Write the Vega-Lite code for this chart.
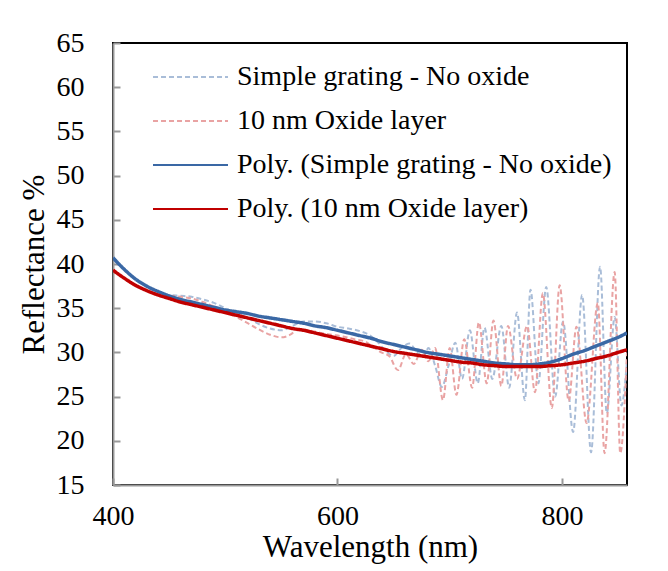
{
  "$schema": "https://vega.github.io/schema/vega-lite/v6.json",
  "autosize": "none",
  "width": 514,
  "height": 442,
  "padding": {"left": 113, "top": 43, "right": 41, "bottom": 86},
  "background": "white",
  "config": {
    "view": {"stroke": "black", "strokeWidth": 2},
    "font": "Liberation Serif, Times New Roman, serif"
  },
  "datasets": {
    "raw": [
      {"wl": 400, "R": 40.7, "series": "Simple grating - No oxide"},
      {"wl": 410, "R": 39.4, "series": "Simple grating - No oxide"},
      {"wl": 420, "R": 38.3, "series": "Simple grating - No oxide"},
      {"wl": 430, "R": 37.4, "series": "Simple grating - No oxide"},
      {"wl": 440, "R": 36.8, "series": "Simple grating - No oxide"},
      {"wl": 450, "R": 36.5, "series": "Simple grating - No oxide"},
      {"wl": 460, "R": 36.4, "series": "Simple grating - No oxide"},
      {"wl": 470, "R": 36.3, "series": "Simple grating - No oxide"},
      {"wl": 480, "R": 36.0, "series": "Simple grating - No oxide"},
      {"wl": 490, "R": 35.6, "series": "Simple grating - No oxide"},
      {"wl": 500, "R": 35.0, "series": "Simple grating - No oxide"},
      {"wl": 510, "R": 34.4, "series": "Simple grating - No oxide"},
      {"wl": 520, "R": 33.9, "series": "Simple grating - No oxide"},
      {"wl": 530, "R": 33.2, "series": "Simple grating - No oxide"},
      {"wl": 540, "R": 32.7, "series": "Simple grating - No oxide"},
      {"wl": 550, "R": 32.5, "series": "Simple grating - No oxide"},
      {"wl": 560, "R": 33.0, "series": "Simple grating - No oxide"},
      {"wl": 570, "R": 33.5, "series": "Simple grating - No oxide"},
      {"wl": 580, "R": 33.5, "series": "Simple grating - No oxide"},
      {"wl": 590, "R": 33.3, "series": "Simple grating - No oxide"},
      {"wl": 600, "R": 32.9, "series": "Simple grating - No oxide"},
      {"wl": 610, "R": 32.7, "series": "Simple grating - No oxide"},
      {"wl": 620, "R": 32.4, "series": "Simple grating - No oxide"},
      {"wl": 628, "R": 32.0, "series": "Simple grating - No oxide"},
      {"wl": 635, "R": 31.3, "series": "Simple grating - No oxide"},
      {"wl": 642, "R": 30.3, "series": "Simple grating - No oxide"},
      {"wl": 650, "R": 29.6, "series": "Simple grating - No oxide"},
      {"wl": 657, "R": 30.5, "series": "Simple grating - No oxide"},
      {"wl": 664, "R": 31.0, "series": "Simple grating - No oxide"},
      {"wl": 671, "R": 30.0, "series": "Simple grating - No oxide"},
      {"wl": 677, "R": 29.5, "series": "Simple grating - No oxide"},
      {"wl": 681, "R": 30.5, "series": "Simple grating - No oxide"},
      {"wl": 687, "R": 28.5, "series": "Simple grating - No oxide"},
      {"wl": 693, "R": 26.1, "series": "Simple grating - No oxide"},
      {"wl": 699, "R": 28.5, "series": "Simple grating - No oxide"},
      {"wl": 705, "R": 31.1, "series": "Simple grating - No oxide"},
      {"wl": 711, "R": 27.0, "series": "Simple grating - No oxide"},
      {"wl": 718, "R": 32.5, "series": "Simple grating - No oxide"},
      {"wl": 725, "R": 26.5, "series": "Simple grating - No oxide"},
      {"wl": 731, "R": 32.8, "series": "Simple grating - No oxide"},
      {"wl": 738, "R": 27.0, "series": "Simple grating - No oxide"},
      {"wl": 746, "R": 33.0, "series": "Simple grating - No oxide"},
      {"wl": 753, "R": 26.0, "series": "Simple grating - No oxide"},
      {"wl": 760, "R": 34.5, "series": "Simple grating - No oxide"},
      {"wl": 767, "R": 24.6, "series": "Simple grating - No oxide"},
      {"wl": 772, "R": 37.1, "series": "Simple grating - No oxide"},
      {"wl": 779, "R": 26.5, "series": "Simple grating - No oxide"},
      {"wl": 786, "R": 37.4, "series": "Simple grating - No oxide"},
      {"wl": 794, "R": 25.0, "series": "Simple grating - No oxide"},
      {"wl": 801, "R": 33.5, "series": "Simple grating - No oxide"},
      {"wl": 810, "R": 21.0, "series": "Simple grating - No oxide"},
      {"wl": 818, "R": 36.5, "series": "Simple grating - No oxide"},
      {"wl": 826, "R": 18.7, "series": "Simple grating - No oxide"},
      {"wl": 834, "R": 39.7, "series": "Simple grating - No oxide"},
      {"wl": 840, "R": 23.1, "series": "Simple grating - No oxide"},
      {"wl": 847, "R": 34.0, "series": "Simple grating - No oxide"},
      {"wl": 853, "R": 24.0, "series": "Simple grating - No oxide"},
      {"wl": 858, "R": 29.0, "series": "Simple grating - No oxide"},
      {"wl": 400, "R": 39.3, "series": "10 nm Oxide layer"},
      {"wl": 410, "R": 38.3, "series": "10 nm Oxide layer"},
      {"wl": 420, "R": 37.5, "series": "10 nm Oxide layer"},
      {"wl": 430, "R": 36.9, "series": "10 nm Oxide layer"},
      {"wl": 440, "R": 36.5, "series": "10 nm Oxide layer"},
      {"wl": 450, "R": 36.4, "series": "10 nm Oxide layer"},
      {"wl": 460, "R": 36.3, "series": "10 nm Oxide layer"},
      {"wl": 470, "R": 36.1, "series": "10 nm Oxide layer"},
      {"wl": 480, "R": 35.7, "series": "10 nm Oxide layer"},
      {"wl": 490, "R": 35.2, "series": "10 nm Oxide layer"},
      {"wl": 500, "R": 34.6, "series": "10 nm Oxide layer"},
      {"wl": 510, "R": 34.0, "series": "10 nm Oxide layer"},
      {"wl": 520, "R": 33.3, "series": "10 nm Oxide layer"},
      {"wl": 530, "R": 32.6, "series": "10 nm Oxide layer"},
      {"wl": 540, "R": 32.0, "series": "10 nm Oxide layer"},
      {"wl": 550, "R": 31.7, "series": "10 nm Oxide layer"},
      {"wl": 558, "R": 32.0, "series": "10 nm Oxide layer"},
      {"wl": 565, "R": 32.6, "series": "10 nm Oxide layer"},
      {"wl": 575, "R": 32.5, "series": "10 nm Oxide layer"},
      {"wl": 585, "R": 32.2, "series": "10 nm Oxide layer"},
      {"wl": 595, "R": 32.0, "series": "10 nm Oxide layer"},
      {"wl": 605, "R": 31.8, "series": "10 nm Oxide layer"},
      {"wl": 615, "R": 31.5, "series": "10 nm Oxide layer"},
      {"wl": 625, "R": 31.2, "series": "10 nm Oxide layer"},
      {"wl": 632, "R": 30.6, "series": "10 nm Oxide layer"},
      {"wl": 639, "R": 30.0, "series": "10 nm Oxide layer"},
      {"wl": 646, "R": 29.6, "series": "10 nm Oxide layer"},
      {"wl": 654, "R": 28.0, "series": "10 nm Oxide layer"},
      {"wl": 661, "R": 29.8, "series": "10 nm Oxide layer"},
      {"wl": 668, "R": 28.7, "series": "10 nm Oxide layer"},
      {"wl": 675, "R": 30.3, "series": "10 nm Oxide layer"},
      {"wl": 681, "R": 29.0, "series": "10 nm Oxide layer"},
      {"wl": 687, "R": 30.5, "series": "10 nm Oxide layer"},
      {"wl": 694, "R": 24.6, "series": "10 nm Oxide layer"},
      {"wl": 700, "R": 30.5, "series": "10 nm Oxide layer"},
      {"wl": 706, "R": 25.2, "series": "10 nm Oxide layer"},
      {"wl": 713, "R": 31.5, "series": "10 nm Oxide layer"},
      {"wl": 720, "R": 26.0, "series": "10 nm Oxide layer"},
      {"wl": 726, "R": 33.4, "series": "10 nm Oxide layer"},
      {"wl": 733, "R": 26.5, "series": "10 nm Oxide layer"},
      {"wl": 739, "R": 33.6, "series": "10 nm Oxide layer"},
      {"wl": 746, "R": 26.2, "series": "10 nm Oxide layer"},
      {"wl": 752, "R": 33.0, "series": "10 nm Oxide layer"},
      {"wl": 760, "R": 27.0, "series": "10 nm Oxide layer"},
      {"wl": 769, "R": 33.0, "series": "10 nm Oxide layer"},
      {"wl": 776, "R": 25.5, "series": "10 nm Oxide layer"},
      {"wl": 783, "R": 36.7, "series": "10 nm Oxide layer"},
      {"wl": 791, "R": 23.7, "series": "10 nm Oxide layer"},
      {"wl": 798, "R": 37.6, "series": "10 nm Oxide layer"},
      {"wl": 806, "R": 24.5, "series": "10 nm Oxide layer"},
      {"wl": 813, "R": 32.9, "series": "10 nm Oxide layer"},
      {"wl": 822, "R": 22.0, "series": "10 nm Oxide layer"},
      {"wl": 832, "R": 35.6, "series": "10 nm Oxide layer"},
      {"wl": 838, "R": 18.6, "series": "10 nm Oxide layer"},
      {"wl": 847, "R": 39.1, "series": "10 nm Oxide layer"},
      {"wl": 852, "R": 18.6, "series": "10 nm Oxide layer"},
      {"wl": 858, "R": 30.0, "series": "10 nm Oxide layer"}
    ],
    "poly": [
      {"wl": 400, "R": 40.7, "series": "Poly. (Simple grating - No oxide)"},
      {"wl": 410, "R": 39.4, "series": "Poly. (Simple grating - No oxide)"},
      {"wl": 420, "R": 38.3, "series": "Poly. (Simple grating - No oxide)"},
      {"wl": 430, "R": 37.5, "series": "Poly. (Simple grating - No oxide)"},
      {"wl": 440, "R": 36.9, "series": "Poly. (Simple grating - No oxide)"},
      {"wl": 450, "R": 36.4, "series": "Poly. (Simple grating - No oxide)"},
      {"wl": 460, "R": 36.0, "series": "Poly. (Simple grating - No oxide)"},
      {"wl": 470, "R": 35.7, "series": "Poly. (Simple grating - No oxide)"},
      {"wl": 480, "R": 35.4, "series": "Poly. (Simple grating - No oxide)"},
      {"wl": 490, "R": 35.1, "series": "Poly. (Simple grating - No oxide)"},
      {"wl": 500, "R": 34.8, "series": "Poly. (Simple grating - No oxide)"},
      {"wl": 510, "R": 34.6, "series": "Poly. (Simple grating - No oxide)"},
      {"wl": 520, "R": 34.4, "series": "Poly. (Simple grating - No oxide)"},
      {"wl": 530, "R": 34.1, "series": "Poly. (Simple grating - No oxide)"},
      {"wl": 540, "R": 33.9, "series": "Poly. (Simple grating - No oxide)"},
      {"wl": 550, "R": 33.7, "series": "Poly. (Simple grating - No oxide)"},
      {"wl": 560, "R": 33.5, "series": "Poly. (Simple grating - No oxide)"},
      {"wl": 570, "R": 33.3, "series": "Poly. (Simple grating - No oxide)"},
      {"wl": 580, "R": 33.0, "series": "Poly. (Simple grating - No oxide)"},
      {"wl": 590, "R": 32.8, "series": "Poly. (Simple grating - No oxide)"},
      {"wl": 600, "R": 32.5, "series": "Poly. (Simple grating - No oxide)"},
      {"wl": 610, "R": 32.2, "series": "Poly. (Simple grating - No oxide)"},
      {"wl": 620, "R": 31.9, "series": "Poly. (Simple grating - No oxide)"},
      {"wl": 630, "R": 31.6, "series": "Poly. (Simple grating - No oxide)"},
      {"wl": 640, "R": 31.2, "series": "Poly. (Simple grating - No oxide)"},
      {"wl": 650, "R": 30.9, "series": "Poly. (Simple grating - No oxide)"},
      {"wl": 660, "R": 30.6, "series": "Poly. (Simple grating - No oxide)"},
      {"wl": 670, "R": 30.3, "series": "Poly. (Simple grating - No oxide)"},
      {"wl": 680, "R": 30.0, "series": "Poly. (Simple grating - No oxide)"},
      {"wl": 690, "R": 29.8, "series": "Poly. (Simple grating - No oxide)"},
      {"wl": 700, "R": 29.6, "series": "Poly. (Simple grating - No oxide)"},
      {"wl": 710, "R": 29.4, "series": "Poly. (Simple grating - No oxide)"},
      {"wl": 720, "R": 29.2, "series": "Poly. (Simple grating - No oxide)"},
      {"wl": 730, "R": 29.0, "series": "Poly. (Simple grating - No oxide)"},
      {"wl": 740, "R": 28.8, "series": "Poly. (Simple grating - No oxide)"},
      {"wl": 750, "R": 28.7, "series": "Poly. (Simple grating - No oxide)"},
      {"wl": 760, "R": 28.6, "series": "Poly. (Simple grating - No oxide)"},
      {"wl": 770, "R": 28.6, "series": "Poly. (Simple grating - No oxide)"},
      {"wl": 780, "R": 28.7, "series": "Poly. (Simple grating - No oxide)"},
      {"wl": 790, "R": 28.9, "series": "Poly. (Simple grating - No oxide)"},
      {"wl": 800, "R": 29.3, "series": "Poly. (Simple grating - No oxide)"},
      {"wl": 810, "R": 29.8, "series": "Poly. (Simple grating - No oxide)"},
      {"wl": 820, "R": 30.2, "series": "Poly. (Simple grating - No oxide)"},
      {"wl": 830, "R": 30.7, "series": "Poly. (Simple grating - No oxide)"},
      {"wl": 840, "R": 31.2, "series": "Poly. (Simple grating - No oxide)"},
      {"wl": 850, "R": 31.7, "series": "Poly. (Simple grating - No oxide)"},
      {"wl": 858, "R": 32.2, "series": "Poly. (Simple grating - No oxide)"},
      {"wl": 400, "R": 39.3, "series": "Poly. (10 nm Oxide layer)"},
      {"wl": 410, "R": 38.4, "series": "Poly. (10 nm Oxide layer)"},
      {"wl": 420, "R": 37.6, "series": "Poly. (10 nm Oxide layer)"},
      {"wl": 430, "R": 37.0, "series": "Poly. (10 nm Oxide layer)"},
      {"wl": 440, "R": 36.5, "series": "Poly. (10 nm Oxide layer)"},
      {"wl": 450, "R": 36.1, "series": "Poly. (10 nm Oxide layer)"},
      {"wl": 460, "R": 35.7, "series": "Poly. (10 nm Oxide layer)"},
      {"wl": 470, "R": 35.4, "series": "Poly. (10 nm Oxide layer)"},
      {"wl": 480, "R": 35.1, "series": "Poly. (10 nm Oxide layer)"},
      {"wl": 490, "R": 34.8, "series": "Poly. (10 nm Oxide layer)"},
      {"wl": 500, "R": 34.5, "series": "Poly. (10 nm Oxide layer)"},
      {"wl": 510, "R": 34.2, "series": "Poly. (10 nm Oxide layer)"},
      {"wl": 520, "R": 33.9, "series": "Poly. (10 nm Oxide layer)"},
      {"wl": 530, "R": 33.6, "series": "Poly. (10 nm Oxide layer)"},
      {"wl": 540, "R": 33.3, "series": "Poly. (10 nm Oxide layer)"},
      {"wl": 550, "R": 33.0, "series": "Poly. (10 nm Oxide layer)"},
      {"wl": 560, "R": 32.7, "series": "Poly. (10 nm Oxide layer)"},
      {"wl": 570, "R": 32.5, "series": "Poly. (10 nm Oxide layer)"},
      {"wl": 580, "R": 32.2, "series": "Poly. (10 nm Oxide layer)"},
      {"wl": 590, "R": 31.9, "series": "Poly. (10 nm Oxide layer)"},
      {"wl": 600, "R": 31.6, "series": "Poly. (10 nm Oxide layer)"},
      {"wl": 610, "R": 31.3, "series": "Poly. (10 nm Oxide layer)"},
      {"wl": 620, "R": 31.0, "series": "Poly. (10 nm Oxide layer)"},
      {"wl": 630, "R": 30.7, "series": "Poly. (10 nm Oxide layer)"},
      {"wl": 640, "R": 30.4, "series": "Poly. (10 nm Oxide layer)"},
      {"wl": 650, "R": 30.1, "series": "Poly. (10 nm Oxide layer)"},
      {"wl": 660, "R": 29.9, "series": "Poly. (10 nm Oxide layer)"},
      {"wl": 670, "R": 29.7, "series": "Poly. (10 nm Oxide layer)"},
      {"wl": 680, "R": 29.5, "series": "Poly. (10 nm Oxide layer)"},
      {"wl": 690, "R": 29.3, "series": "Poly. (10 nm Oxide layer)"},
      {"wl": 700, "R": 29.1, "series": "Poly. (10 nm Oxide layer)"},
      {"wl": 710, "R": 28.9, "series": "Poly. (10 nm Oxide layer)"},
      {"wl": 720, "R": 28.8, "series": "Poly. (10 nm Oxide layer)"},
      {"wl": 730, "R": 28.6, "series": "Poly. (10 nm Oxide layer)"},
      {"wl": 740, "R": 28.5, "series": "Poly. (10 nm Oxide layer)"},
      {"wl": 750, "R": 28.4, "series": "Poly. (10 nm Oxide layer)"},
      {"wl": 760, "R": 28.4, "series": "Poly. (10 nm Oxide layer)"},
      {"wl": 770, "R": 28.4, "series": "Poly. (10 nm Oxide layer)"},
      {"wl": 780, "R": 28.4, "series": "Poly. (10 nm Oxide layer)"},
      {"wl": 790, "R": 28.5, "series": "Poly. (10 nm Oxide layer)"},
      {"wl": 800, "R": 28.6, "series": "Poly. (10 nm Oxide layer)"},
      {"wl": 810, "R": 28.8, "series": "Poly. (10 nm Oxide layer)"},
      {"wl": 820, "R": 29.0, "series": "Poly. (10 nm Oxide layer)"},
      {"wl": 830, "R": 29.3, "series": "Poly. (10 nm Oxide layer)"},
      {"wl": 840, "R": 29.6, "series": "Poly. (10 nm Oxide layer)"},
      {"wl": 850, "R": 30.0, "series": "Poly. (10 nm Oxide layer)"},
      {"wl": 858, "R": 30.3, "series": "Poly. (10 nm Oxide layer)"}
    ]
  },
  "encoding": {
    "x": {
      "field": "wl", "type": "quantitative",
      "scale": {"domain": [400, 858], "nice": false, "zero": false},
      "axis": {
        "title": "Wavelength (nm)", "values": [400, 600, 800], "grid": false, "labelFlush": false,
        "domainColor": "#999999", "domainWidth": 2, "tickColor": "#999999", "tickWidth": 2, "tickSize": -7,
        "labelFont": "Liberation Serif, Times New Roman, serif", "labelFontSize": 28, "labelColor": "black", "labelPadding": 24,
        "titleFont": "Liberation Serif, Times New Roman, serif", "titleFontSize": 31, "titleFontWeight": "normal", "titleColor": "black", "titlePadding": 2
      }
    },
    "y": {
      "field": "R", "type": "quantitative",
      "scale": {"domain": [15, 65], "nice": false, "zero": false},
      "axis": {
        "title": "Reflectance %", "values": [15, 20, 25, 30, 35, 40, 45, 50, 55, 60, 65], "grid": false, "labelFlush": false,
        "domainColor": "#999999", "domainWidth": 2, "tickColor": "#999999", "tickWidth": 2, "tickSize": -7,
        "labelFont": "Liberation Serif, Times New Roman, serif", "labelFontSize": 28, "labelColor": "black", "labelPadding": 36,
        "titleFont": "Liberation Serif, Times New Roman, serif", "titleFontSize": 31, "titleFontWeight": "normal", "titleColor": "black", "titlePadding": 6
      }
    },
    "color": {
      "field": "series", "type": "nominal",
      "scale": {
        "domain": ["Simple grating - No oxide", "10 nm Oxide layer", "Poly. (Simple grating - No oxide)", "Poly. (10 nm Oxide layer)"],
        "range": ["#A9BDD8", "#E9A3A3", "#3A68A5", "#C00000"]
      },
      "legend": {
        "title": null, "orient": "none", "legendX": 39, "legendY": 12,
        "symbolType": "stroke", "symbolSize": 5625, "symbolStrokeWidth": 2,
        "labelFont": "Liberation Serif, Times New Roman, serif", "labelFontSize": 28, "labelColor": "black",
        "labelOffset": 8, "rowPadding": 0, "clipHeight": 44, "labelLimit": 500
      }
    },
    "strokeDash": {
      "field": "series", "type": "nominal",
      "scale": {
        "domain": ["Simple grating - No oxide", "10 nm Oxide layer", "Poly. (Simple grating - No oxide)", "Poly. (10 nm Oxide layer)"],
        "range": [[5, 3], [5, 3], [1, 0], [1, 0]]
      },
      "legend": null
    }
  },
  "layer": [
    {
      "data": {"name": "raw"},
      "mark": {"type": "line", "interpolate": "monotone", "strokeWidth": 2, "clip": true}
    },
    {
      "data": {"name": "poly"},
      "mark": {"type": "line", "interpolate": "monotone", "strokeWidth": 3.5, "clip": true}
    }
  ]
}
